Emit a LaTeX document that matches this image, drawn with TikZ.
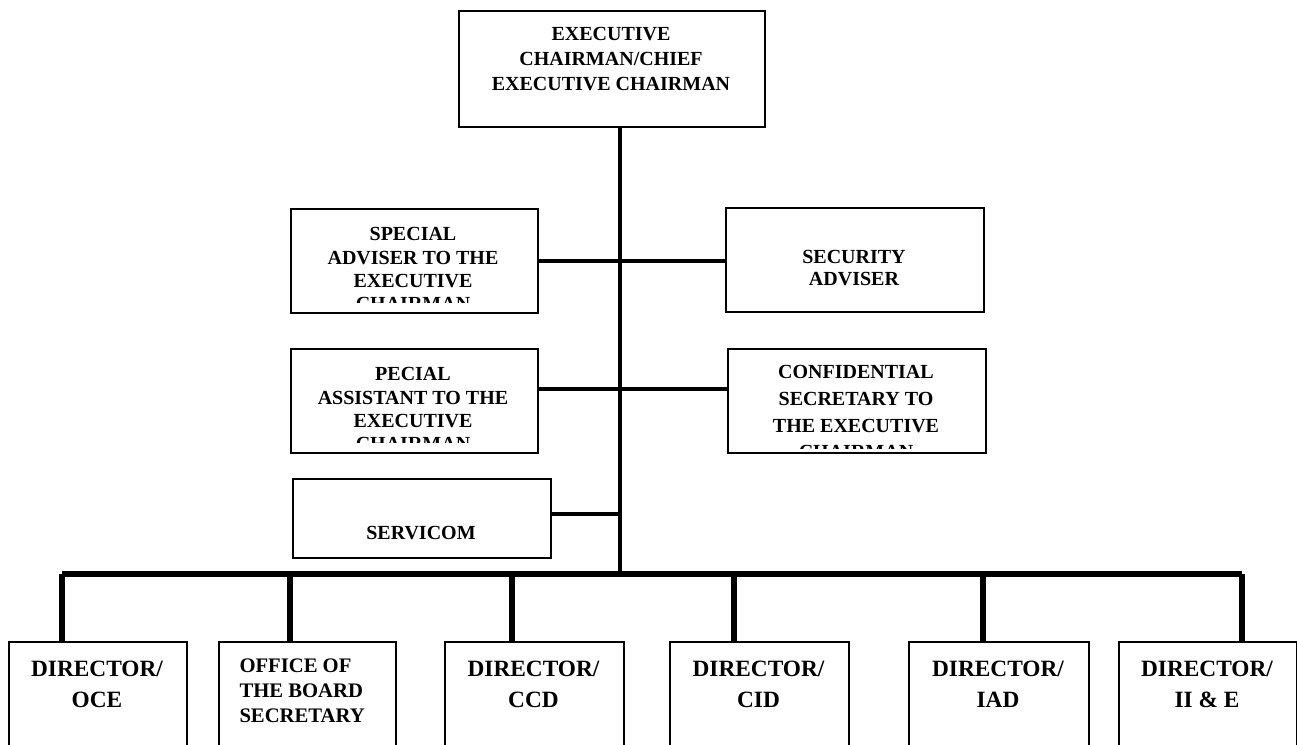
\documentclass[tikz,border=0pt]{standalone}
\usepackage{fontspec}
\setmainfont{Liberation Serif}

\tikzset{every picture/.style={line width=0.75pt}}
\tikzset{
  orgbox/.style={draw, line width=1.7pt, inner sep=0pt, anchor=north west, fill=white},
  orgtext/.style={inner sep=0pt, anchor=north, align=center, font=\bfseries\fontsize{15}{17.5}\selectfont},
  dirtext/.style={inner sep=0pt, anchor=north, align=center, font=\bfseries\fontsize{17.5}{23}\selectfont},
  link/.style={line width=2.6pt},
  trunkline/.style={line width=3.4pt},
  busline/.style={line width=4pt},
}

\begin{document}
\begin{tikzpicture}[x=0.75pt,y=0.75pt,yscale=-1,xscale=1]
	\useasboundingbox (0,0) rectangle (1297,744);
	\clip (0,0) rectangle (1297,744);
	
	%Boxes
	\node [orgbox, minimum width=229.5pt, minimum height=87pt] (ceo) at (458,10) {};
	\node [orgbox, minimum width=185.25pt, minimum height=78pt] (sa) at (290,208) {};
	\node [orgbox, minimum width=193.5pt, minimum height=78pt] (sec) at (725,207) {};
	\node [orgbox, minimum width=185.25pt, minimum height=78pt] (pa) at (290,348) {};
	\node [orgbox, minimum width=193.5pt, minimum height=78pt] (conf) at (727,348) {};
	\node [orgbox, minimum width=193.5pt, minimum height=59.25pt] (serv) at (292,478) {};
	
	%Directors row
	\node [orgbox, minimum width=133.5pt, minimum height=89.25pt] (oce) at (8,641) {};
	\node [orgbox, minimum width=132.75pt, minimum height=89.25pt] (obs) at (218,641) {};
	\node [orgbox, minimum width=134.25pt, minimum height=89.25pt] (ccd) at (444,641) {};
	\node [orgbox, minimum width=134.25pt, minimum height=89.25pt] (cid) at (669,641) {};
	\node [orgbox, minimum width=135pt, minimum height=89.25pt] (iad) at (908,641) {};
	\node [orgbox, minimum width=133.5pt, minimum height=89.25pt] (iie) at (1118,641) {};
	
	% Text Node
	\node [orgtext, font=\bfseries\fontsize{15}{18.75}\selectfont] (ceo-t) at (611,27) {EXECUTIVE\\CHAIRMAN/CHIEF\\EXECUTIVE CHAIRMAN};
	% Text Node
	\begin{scope}
		\clip (290,208) rectangle (537,302);
		\node [orgtext] (sa-t) at (413,227) {SPECIAL\\ADVISER TO THE\\EXECUTIVE\\CHAIRMAN};
	\end{scope}
	% Text Node
	\node [orgtext, font=\bfseries\fontsize{15}{16.25}\selectfont] (sec-t) at (854,250) {SECURITY\\ADVISER};
	% Text Node
	\begin{scope}
		\clip (290,348) rectangle (537,442);
		\node [orgtext] (pa-t) at (413,367) {PECIAL\\ASSISTANT TO THE\\EXECUTIVE\\CHAIRMAN};
	\end{scope}
	% Text Node
	\begin{scope}
		\clip (727,348) rectangle (985,448);
		\node [orgtext, font=\bfseries\fontsize{15}{20}\selectfont] (conf-t) at (856,365) {CONFIDENTIAL\\SECRETARY TO\\THE EXECUTIVE\\CHAIRMAN};
	\end{scope}
	% Text Node
	\node [orgtext] (serv-t) at (421,526) {SERVICOM};
	
	% Text Node
	\node [dirtext] (oce-t) at (97,661) {DIRECTOR/\\OCE};
	\node [inner sep=0pt, anchor=north west, align=left, font=\bfseries\fontsize{15.5}{18.75}\selectfont] (obs-t) at (239,658) {OFFICE OF\\THE BOARD\\SECRETARY};
	\node [dirtext] (ccd-t) at (533.5,661) {DIRECTOR/\\CCD};
	\node [dirtext] (cid-t) at (758.5,661) {DIRECTOR/\\CID};
	\node [dirtext] (iad-t) at (998,661) {DIRECTOR/\\IAD};
	\node [dirtext] (iie-t) at (1207,661) {DIRECTOR/\\II \& E};
	
	%Connectors
	\coordinate (hub) at (620,574);
	\draw [trunkline] (hub |- ceo.south) -- (hub);
	\draw [link] (sa.east) -- (sa.east -| sec.west);
	\draw [link] ([yshift=-9pt]pa.east) -- ([yshift=-9pt]pa.east -| conf.west);
	\draw [link] ([yshift=-3.4pt]serv.east) -- ([yshift=-3.4pt]serv.east -| hub);
	
	\coordinate (busl) at (62,574);
	\coordinate (busr) at (1242,574);
	\draw [busline] (busl) -- (busr);
	\foreach \x/\b in {62/oce, 290/obs, 512/ccd, 734/cid, 983/iad, 1242/iie}{
		\coordinate (d-\b) at (\x,574);
		\draw [busline] (d-\b) -- (d-\b |- \b.north);
	}
	
\end{tikzpicture}
\end{document}
